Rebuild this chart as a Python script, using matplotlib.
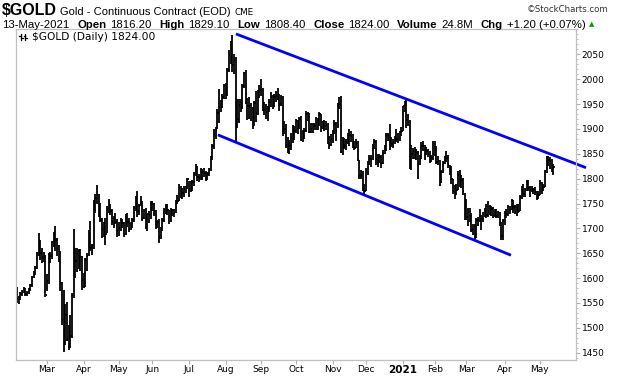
import numpy as np
import pandas as pd
import matplotlib
matplotlib.use('Agg')
import matplotlib.pyplot as plt
from matplotlib.lines import Line2D
from matplotlib.ticker import MultipleLocator

# exchange holidays between the first and last bar
holidays = ['2020-02-17', '2020-04-10', '2020-05-25', '2020-07-03', '2020-09-07',
            '2020-11-26', '2020-12-25', '2021-01-01', '2021-01-18', '2021-02-15',
            '2021-04-02']

# daily highs, one row per month (Feb 2020 .. May 2021)
highs = [
    1582, 1563, 1572, 1577, 1582, 1580, 1575, 1581, 1588, 1605, 1614, 1624, 1652, 1691, 1677, 1660, 1652, 1646,
    1609, 1650, 1653, 1674, 1692, 1704, 1680, 1667, 1655, 1593, 1576, 1547, 1552, 1505, 1526, 1571, 1698, 1660, 1660, 1658, 1658, 1645,
    1611, 1641, 1650, 1696, 1715, 1668, 1757, 1769, 1788, 1770, 1752, 1720, 1713, 1720, 1745, 1760, 1750, 1738, 1724, 1730, 1718,
    1712, 1720, 1719, 1712, 1729, 1730, 1721, 1712, 1720, 1745, 1765, 1775, 1750, 1765, 1755, 1739, 1741, 1729, 1734, 1755,
    1756, 1752, 1736, 1717, 1719, 1702, 1721, 1741, 1749, 1748, 1737, 1740, 1738, 1738, 1757, 1768, 1790, 1786, 1781, 1785, 1785, 1801,
    1795, 1795, 1797, 1813, 1829, 1825, 1810, 1822, 1819, 1821, 1815, 1814, 1822, 1845, 1869, 1899, 1904, 1941, 1980, 1958, 1970, 1991,
    1993, 2022, 2058, 2076, 2089, 2050, 2045, 1960, 1960, 1960, 1990, 2015, 2018, 1962, 1965, 1953, 1945, 1957, 1976, 1978, 1988,
    2001, 1983, 1955, 1951, 1947, 1960, 1975, 1968, 1970, 1976, 1983, 1970, 1968, 1966, 1916, 1909, 1883, 1878, 1891, 1907, 1906,
    1920, 1918, 1924, 1925, 1898, 1901, 1936, 1933, 1932, 1911, 1912, 1911, 1923, 1921, 1935, 1930, 1915, 1917, 1915, 1911, 1885, 1889,
    1897, 1917, 1914, 1953, 1965, 1966, 1883, 1882, 1880, 1892, 1899, 1895, 1889, 1875, 1880, 1875, 1838, 1818, 1815, 1789,
    1822, 1835, 1848, 1848, 1870, 1880, 1877, 1850, 1850, 1847, 1858, 1868, 1892, 1892, 1909, 1884, 1879, 1886, 1900, 1891, 1896, 1903,
    1947, 1956, 1962, 1929, 1917, 1868, 1862, 1864, 1860, 1855, 1848, 1874, 1875, 1867, 1864, 1860, 1855, 1848, 1876,
    1875, 1866, 1845, 1838, 1817, 1836, 1845, 1855, 1848, 1828, 1826, 1800, 1788, 1789, 1815, 1817, 1808, 1802, 1772,
    1760, 1740, 1740, 1730, 1708, 1708, 1720, 1722, 1739, 1726, 1733, 1741, 1750, 1755, 1747, 1745, 1742, 1738, 1739, 1735, 1733, 1712, 1718,
    1734, 1739, 1747, 1745, 1760, 1757, 1746, 1749, 1750, 1767, 1785, 1790, 1781, 1797, 1798, 1785, 1786, 1782, 1783, 1776, 1775,
    1797, 1793, 1789, 1818, 1845, 1845, 1843, 1840, 1829,
]

lows = [
    1549, 1548, 1555, 1565, 1570, 1565, 1563, 1568, 1575, 1582, 1600, 1607, 1618, 1644, 1636, 1630, 1633, 1562,
    1575, 1588, 1631, 1638, 1663, 1654, 1645, 1633, 1575, 1505, 1451, 1465, 1474, 1456, 1460, 1480, 1560, 1600, 1612, 1618, 1615, 1576,
    1580, 1583, 1615, 1645, 1655, 1646, 1658, 1730, 1750, 1723, 1712, 1681, 1682, 1666, 1690, 1731, 1727, 1707, 1700, 1708, 1683,
    1684, 1694, 1700, 1683, 1686, 1703, 1693, 1696, 1700, 1712, 1735, 1722, 1727, 1745, 1715, 1718, 1698, 1695, 1710, 1719,
    1735, 1725, 1698, 1700, 1671, 1679, 1695, 1712, 1728, 1726, 1708, 1712, 1725, 1722, 1730, 1750, 1756, 1761, 1760, 1764, 1772, 1779,
    1764, 1773, 1776, 1785, 1806, 1795, 1793, 1797, 1797, 1803, 1795, 1797, 1806, 1815, 1838, 1859, 1880, 1899, 1911, 1935, 1942, 1960,
    1960, 1966, 2015, 2030, 2015, 2010, 1874, 1902, 1912, 1935, 1941, 1982, 1950, 1918, 1920, 1915, 1900, 1906, 1913, 1928, 1963,
    1966, 1937, 1927, 1920, 1915, 1935, 1944, 1941, 1944, 1955, 1959, 1937, 1947, 1886, 1889, 1862, 1851, 1850, 1858, 1872, 1878,
    1892, 1889, 1899, 1876, 1874, 1880, 1893, 1915, 1892, 1891, 1891, 1897, 1898, 1897, 1905, 1894, 1899, 1895, 1898, 1870, 1860, 1865,
    1872, 1889, 1875, 1901, 1940, 1851, 1848, 1860, 1857, 1870, 1866, 1874, 1862, 1857, 1862, 1835, 1800, 1800, 1776, 1767,
    1776, 1807, 1828, 1823, 1837, 1860, 1827, 1824, 1831, 1822, 1830, 1850, 1855, 1876, 1858, 1863, 1862, 1870, 1874, 1872, 1876, 1886,
    1895, 1935, 1902, 1905, 1820, 1817, 1840, 1840, 1838, 1800, 1828, 1839, 1855, 1838, 1848, 1844, 1831, 1834, 1838,
    1845, 1830, 1828, 1785, 1791, 1812, 1830, 1833, 1822, 1808, 1789, 1769, 1760, 1767, 1777, 1784, 1782, 1767, 1717,
    1717, 1705, 1713, 1692, 1687, 1677, 1680, 1705, 1713, 1697, 1712, 1723, 1721, 1722, 1726, 1725, 1720, 1722, 1720, 1721, 1705, 1677, 1677,
    1706, 1721, 1724, 1728, 1736, 1730, 1728, 1725, 1730, 1735, 1760, 1764, 1763, 1776, 1776, 1763, 1774, 1770, 1767, 1757, 1760,
    1767, 1770, 1775, 1783, 1812, 1825, 1820, 1813, 1808,
]

closes = [
    1557, 1557, 1569, 1573, 1579, 1569, 1571, 1578, 1586, 1603, 1611, 1620, 1648, 1676, 1650, 1643, 1642, 1566,
    1594, 1644, 1644, 1672, 1672, 1676, 1660, 1642, 1590, 1516, 1486, 1526, 1478, 1478, 1484, 1567, 1660, 1634, 1651, 1654, 1643, 1596,
    1591, 1637, 1645, 1693, 1660, 1664, 1752, 1761, 1768, 1738, 1717, 1698, 1711, 1688, 1738, 1745, 1735, 1713, 1722, 1713, 1694,
    1700, 1713, 1710, 1688, 1725, 1713, 1698, 1706, 1716, 1740, 1756, 1734, 1745, 1752, 1721, 1735, 1710, 1728, 1727, 1751,
    1750, 1734, 1704, 1713, 1683, 1698, 1716, 1737, 1739, 1737, 1725, 1727, 1736, 1731, 1753, 1756, 1782, 1776, 1771, 1780, 1781, 1800,
    1779, 1790, 1793, 1809, 1820, 1803, 1801, 1814, 1813, 1811, 1800, 1810, 1818, 1843, 1865, 1890, 1897, 1931, 1944, 1953, 1965, 1986,
    1976, 2019, 2049, 2069, 2028, 2039, 1946, 1919, 1949, 1944, 1987, 2013, 1970, 1946, 1947, 1929, 1911, 1953, 1931, 1974, 1978,
    1978, 1944, 1938, 1934, 1943, 1954, 1964, 1947, 1964, 1966, 1970, 1951, 1962, 1910, 1900, 1868, 1876, 1866, 1882, 1903, 1895,
    1916, 1907, 1920, 1877, 1887, 1895, 1930, 1925, 1894, 1900, 1908, 1906, 1911, 1907, 1929, 1904, 1905, 1905, 1908, 1879, 1868, 1879,
    1892, 1910, 1896, 1946, 1951, 1854, 1876, 1866, 1873, 1886, 1887, 1885, 1873, 1861, 1872, 1837, 1805, 1808, 1788, 1776,
    1818, 1830, 1840, 1840, 1866, 1873, 1839, 1836, 1843, 1831, 1852, 1858, 1887, 1886, 1878, 1870, 1874, 1883, 1880, 1882, 1893, 1895,
    1946, 1954, 1918, 1913, 1835, 1850, 1855, 1845, 1851, 1829, 1840, 1866, 1866, 1857, 1856, 1850, 1844, 1842, 1850,
    1863, 1834, 1835, 1794, 1814, 1832, 1838, 1842, 1827, 1823, 1799, 1775, 1775, 1777, 1808, 1805, 1797, 1775, 1728,
    1723, 1733, 1716, 1697, 1698, 1683, 1716, 1716, 1722, 1719, 1729, 1731, 1727, 1735, 1741, 1738, 1727, 1734, 1725, 1732, 1712, 1685, 1715,
    1728, 1728, 1743, 1737, 1755, 1743, 1732, 1746, 1735, 1763, 1779, 1770, 1778, 1793, 1782, 1777, 1780, 1778, 1773, 1768, 1767,
    1792, 1779, 1784, 1815, 1831, 1837, 1836, 1823, 1824,
]

y_ticks = list(range(1450, 2051, 50))

# trend channel, (bar number, price) at each end
upper_bars = [131.1, 340.6]
upper_prices = [2091, 1822]
lower_bars = [120.3, 295.7]
lower_prices = [1888, 1646]

header_parts = [('13-May-2021', 'normal'), ('Open', 'bold'), ('1816.20', 'normal'),
                ('High', 'bold'), ('1829.10', 'normal'), ('Low', 'bold'), ('1808.40', 'normal'),
                ('Close', 'bold'), ('1824.00', 'normal'), ('Volume', 'bold'), ('24.8M', 'normal'),
                ('Chg', 'bold'), ('+1.20 (+0.07%)', 'normal')]

dates = pd.bdate_range('2020-02-04', '2021-05-13', freq='C', holidays=holidays)
n = min(len(dates), len(closes), len(highs), len(lows))
x = np.arange(n)

W, H = 620, 376
fig = plt.figure(figsize=(W / 100, H / 100), dpi=100)
ax = fig.add_axes([16.3 / W, 16 / H, (576 - 16.3) / W, (360 - 29) / H])

def px(xp, yp):
    return xp / W, 1 - yp / H

# price bars
ax.vlines(x, lows[:n], highs[:n], color='black', lw=1.3)
ax.hlines(closes[:n], x, x + 0.8, color='black', lw=1.3)

# channel
ax.plot(upper_bars, upper_prices, color='#0000ff', lw=2.0, clip_on=False, solid_capstyle='butt')
ax.plot(lower_bars, lower_prices, color='#0000ff', lw=2.0, clip_on=False, solid_capstyle='butt')

ax.set_xlim(-0.36, 334.6)
ax.set_ylim(1435.3, 2100.9)

# month ticks at the first bar of each month
months = dates[:n].to_period('M')
tick_pos = [i for i in range(1, n) if months[i] != months[i - 1]]
tick_lab = ['2021' if dates[i].month == 1 else dates[i].strftime('%b') for i in tick_pos]
ax.set_xticks(tick_pos)
ax.set_xticklabels(tick_lab, fontsize=6.5, family='DejaVu Sans')
for lab in ax.get_xticklabels():
    if lab.get_text() == '2021':
        lab.set_fontweight('bold')
        lab.set_fontsize(7.5)
ax.tick_params(axis='x', length=3, width=0.8, color='#b0b0b0', pad=0.5)

ax.yaxis.tick_right()
ax.set_yticks(y_ticks)
ax.set_yticklabels([str(v) for v in y_ticks], fontsize=6.5, family='DejaVu Sans')
ax.yaxis.set_minor_locator(MultipleLocator(10))
ax.tick_params(axis='y', which='major', length=3, width=0.8, color='#b0b0b0', pad=1)
ax.tick_params(axis='y', which='minor', length=1.5, width=0.6, color='#b0b0b0')

for s in ax.spines.values():
    s.set_color('#c0c0c0')
    s.set_linewidth(0.9)

# legend text inside the plot
ax.text(*px(32, 37), '$GOLD (Daily) 1824.00', transform=fig.transFigure,
        fontsize=7.7, va='center', ha='left', family='DejaVu Sans')
for dx in (21, 25):
    fig.add_artist(Line2D([dx / W, dx / W], [1 - 33.5 / H, 1 - 40 / H], color='black', lw=0.9))
    fig.add_artist(Line2D([(dx - 1.5) / W, dx / W], [1 - 35.5 / H] * 2, color='black', lw=0.9))
    fig.add_artist(Line2D([dx / W, (dx + 1.5) / W], [1 - 38 / H] * 2, color='black', lw=0.9))

# header, line 1
y1 = 1 - 15 / H
t = fig.text(2 / W, y1, '$GOLD', fontsize=11.5, fontweight='bold', family='Liberation Sans', va='baseline')
t = ax.annotate('Gold - Continuous Contract (EOD)', xy=(1, y1), xycoords=(t, 'figure fraction'),
                xytext=(2.5, 0), textcoords='offset points', va='baseline',
                fontsize=8, family='Liberation Sans', annotation_clip=False)
ax.annotate('CME', xy=(1, y1), xycoords=(t, 'figure fraction'), xytext=(2.5, 0),
            textcoords='offset points', va='baseline',
            fontsize=6.3, family='DejaVu Sans', annotation_clip=False)
fig.text(*px(608, 12), '\u00a9StockCharts.com', fontsize=6.2, ha='right', color='#333333',
         family='DejaVu Sans')

# header, line 2
y2 = 1 - 27.5 / H
t = fig.text(2 / W, y2, header_parts[0][0], fontsize=8.2, family='Liberation Sans', va='baseline')
for s, w in header_parts[1:]:
    gap = 5.8 if w == 'bold' else 2.5
    t = ax.annotate(s, xy=(1, y2), xycoords=(t, 'figure fraction'), xytext=(gap, 0),
                    textcoords='offset points', va='baseline',
                    fontsize=8.2, fontweight=w, family='Liberation Sans', annotation_clip=False)
ax.annotate('\u25b2', xy=(1, y2), xycoords=(t, 'figure fraction'), xytext=(3, 1),
            textcoords='offset points', va='baseline',
            fontsize=5, color='#00a000', family='DejaVu Sans', annotation_clip=False)

fig.savefig('out.png', dpi=100)
